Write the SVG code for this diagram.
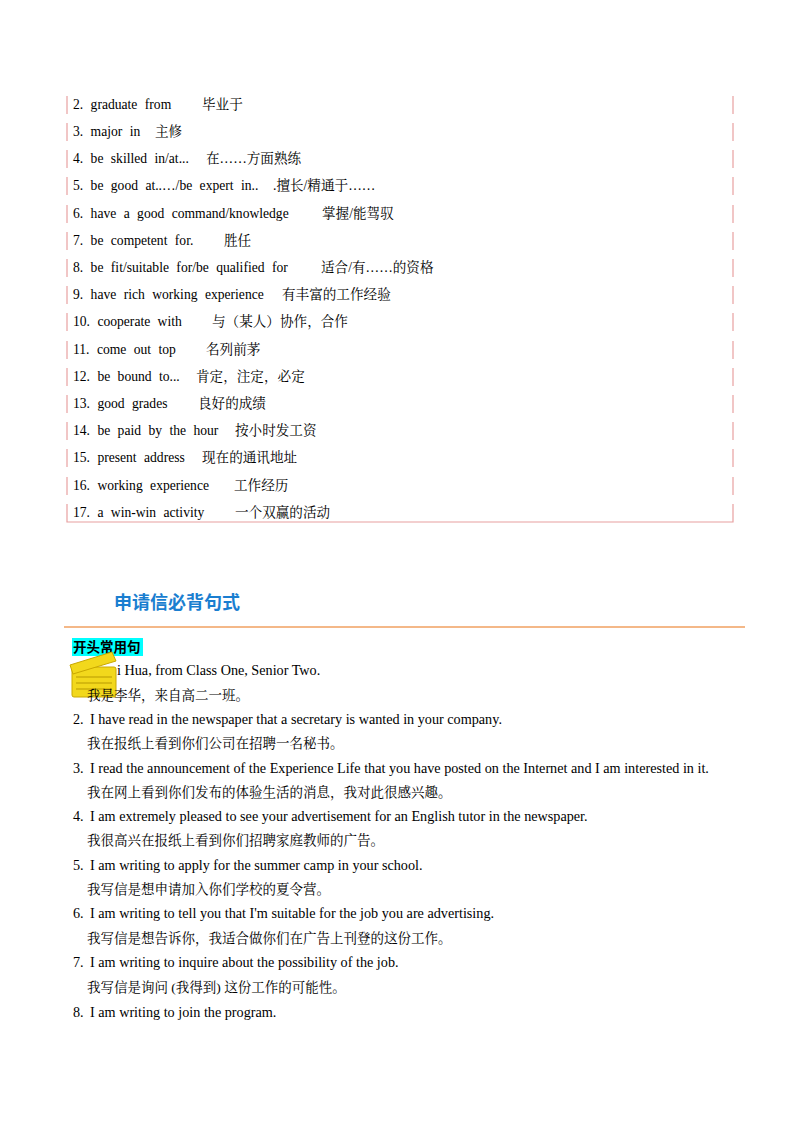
<svg xmlns="http://www.w3.org/2000/svg" width="800" height="1132" viewBox="0 0 800 1132">
<style>
text{font-family:"Liberation Serif","Noto Serif CJK SC","Noto Sans CJK SC",serif;font-size:13.6px;fill:#000}
.t{word-spacing:4px}
.b{stroke:#e8a0a0;stroke-width:1.2}
.h{font-family:"Noto Sans CJK SC",sans-serif;font-size:18px;font-weight:bold;fill:#1a7ed0}
.k{font-family:"Noto Sans CJK SC",sans-serif;font-size:13.5px;font-weight:bold}
.s{font-size:14.2px}
.c{font-size:13.5px}
</style>
<rect width="800" height="1132" fill="#fff"/>
<g id="table">
<g class="b">
<line x1="67" y1="96" x2="67" y2="114"/><line x1="733" y1="96" x2="733" y2="114"/>
<line x1="67" y1="123" x2="67" y2="141"/><line x1="733" y1="123" x2="733" y2="141"/>
<line x1="67" y1="150" x2="67" y2="168"/><line x1="733" y1="150" x2="733" y2="168"/>
<line x1="67" y1="177" x2="67" y2="195"/><line x1="733" y1="177" x2="733" y2="195"/>
<line x1="67" y1="205" x2="67" y2="223"/><line x1="733" y1="205" x2="733" y2="223"/>
<line x1="67" y1="232" x2="67" y2="250"/><line x1="733" y1="232" x2="733" y2="250"/>
<line x1="67" y1="259" x2="67" y2="277"/><line x1="733" y1="259" x2="733" y2="277"/>
<line x1="67" y1="286" x2="67" y2="304"/><line x1="733" y1="286" x2="733" y2="304"/>
<line x1="67" y1="313" x2="67" y2="331"/><line x1="733" y1="313" x2="733" y2="331"/>
<line x1="67" y1="341" x2="67" y2="359"/><line x1="733" y1="341" x2="733" y2="359"/>
<line x1="67" y1="368" x2="67" y2="386"/><line x1="733" y1="368" x2="733" y2="386"/>
<line x1="67" y1="395" x2="67" y2="413"/><line x1="733" y1="395" x2="733" y2="413"/>
<line x1="67" y1="422" x2="67" y2="440"/><line x1="733" y1="422" x2="733" y2="440"/>
<line x1="67" y1="449" x2="67" y2="467"/><line x1="733" y1="449" x2="733" y2="467"/>
<line x1="67" y1="477" x2="67" y2="495"/><line x1="733" y1="477" x2="733" y2="495"/>
<polyline fill="none" points="67,504 67,522 733,522 733,504"/>
</g>
<text class="t" x="73" y="109">2. graduate from<tspan x="202">毕业于</tspan></text>
<text class="t" x="73" y="136">3. major in<tspan x="155">主修</tspan></text>
<text class="t" x="73" y="163">4. be skilled in/at...<tspan x="206">在……方面熟练</tspan></text>
<text class="t" x="73" y="190">5. be good at..…/be expert in..<tspan x="273">.擅长/精通于……</tspan></text>
<text class="t" x="73" y="218">6. have a good command/knowledge<tspan x="322">掌握/能驾驭</tspan></text>
<text class="t" x="73" y="245">7. be competent for.<tspan x="224">胜任</tspan></text>
<text class="t" x="73" y="272">8. be fit/suitable for/be qualified for<tspan x="321">适合/有……的资格</tspan></text>
<text class="t" x="73" y="299">9. have rich working experience<tspan x="282">有丰富的工作经验</tspan></text>
<text class="t" x="73" y="326">10. cooperate with<tspan x="212">与（某人）协作，合作</tspan></text>
<text class="t" x="73" y="354">11. come out top<tspan x="206">名列前茅</tspan></text>
<text class="t" x="73" y="381">12. be bound to...<tspan x="196">肯定，注定，必定</tspan></text>
<text class="t" x="73" y="408">13. good grades<tspan x="198">良好的成绩</tspan></text>
<text class="t" x="73" y="435">14. be paid by the hour<tspan x="235">按小时发工资</tspan></text>
<text class="t" x="73" y="462">15. present address<tspan x="202">现在的通讯地址</tspan></text>
<text class="t" x="73" y="490">16. working experience<tspan x="234">工作经历</tspan></text>
<text class="t" x="73" y="517">17. a win-win activity<tspan x="235">一个双赢的活动</tspan></text>
</g>
<g id="heading">
<text class="h" x="114" y="609">申请信必背句式</text>
<line x1="64" y1="627" x2="745" y2="627" stroke="#f0a060" stroke-width="1.5"/>
<rect x="72" y="638" width="71" height="18" fill="#00ffff"/>
<text class="k" x="73" y="652">开头常用句</text>
</g>
<g id="icon">
<rect x="72" y="667" width="44" height="30" rx="2" fill="#f2d81c" stroke="#c9a800"/>
<polygon points="70,665 112,652 116,661 73,674" fill="#f2d81c" stroke="#c9a800"/>
<g stroke="#b89a00" stroke-width="1"><line x1="76" y1="677" x2="112" y2="677"/><line x1="76" y1="683" x2="112" y2="683"/><line x1="76" y1="689" x2="112" y2="689"/></g>
</g>
<g id="body">
<text class="s" x="117" y="675">i Hua, from Class One, Senior Two.</text>
<text class="c" x="87" y="700">我是李华，来自高二一班。</text>
<text class="s" x="73" y="724">2.<tspan x="90">I have read in the newspaper that a secretary is wanted in your company.</tspan></text>
<text class="c" x="87" y="748">我在报纸上看到你们公司在招聘一名秘书。</text>
<text class="s" x="73" y="773">3.<tspan x="90">I read the announcement of the Experience Life that you have posted on the Internet and I am interested in it.</tspan></text>
<text class="c" x="87" y="797">我在网上看到你们发布的体验生活的消息，我对此很感兴趣。</text>
<text class="s" x="73" y="821">4.<tspan x="90">I am extremely pleased to see your advertisement for an English tutor in the newspaper.</tspan></text>
<text class="c" x="87" y="845">我很高兴在报纸上看到你们招聘家庭教师的广告。</text>
<text class="s" x="73" y="870">5.<tspan x="90">I am writing to apply for the summer camp in your school.</tspan></text>
<text class="c" x="87" y="894">我写信是想申请加入你们学校的夏令营。</text>
<text class="s" x="73" y="918">6.<tspan x="90">I am writing to tell you that I'm suitable for the job you are advertising.</tspan></text>
<text class="c" x="87" y="943">我写信是想告诉你，我适合做你们在广告上刊登的这份工作。</text>
<text class="s" x="73" y="967">7.<tspan x="90">I am writing to inquire about the possibility of the job.</tspan></text>
<text class="c" x="87" y="992">我写信是询问 (我得到) 这份工作的可能性。</text>
<text class="s" x="73" y="1017">8.<tspan x="90">I am writing to join the program.</tspan></text>
</g>
</svg>
